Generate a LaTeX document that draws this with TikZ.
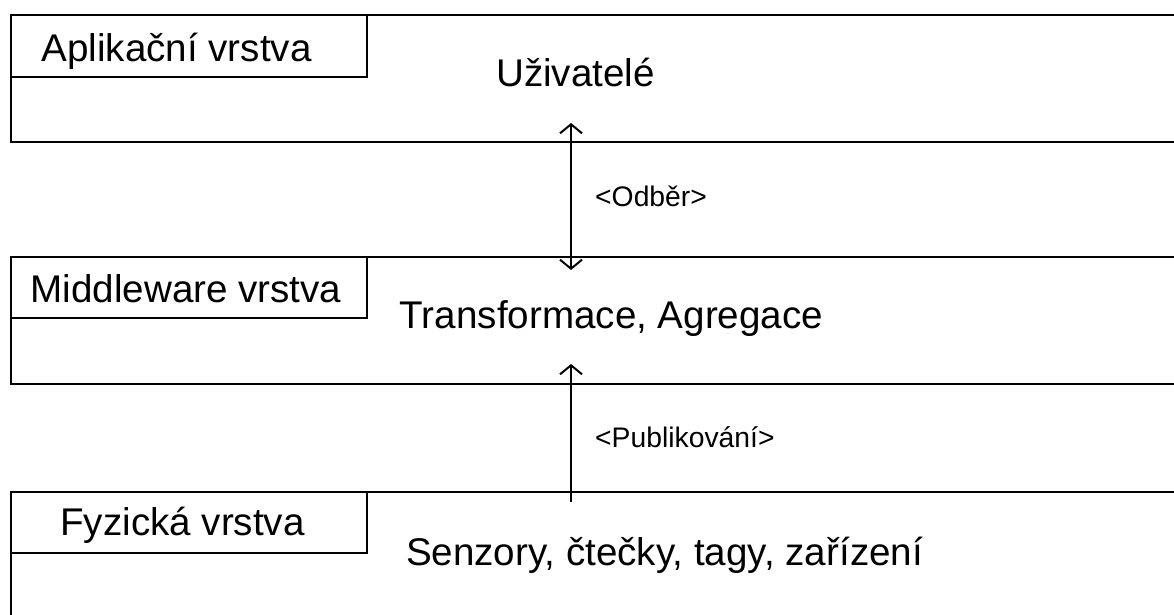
\documentclass[tikz,border=0pt]{standalone}
\usepackage{fontspec}
\setmainfont{Liberation Sans}
\usetikzlibrary{arrows.meta}
\begin{document}
\begin{tikzpicture}[x=1pt,y=-1pt,
  layer/.style={draw,line width=2pt,rectangle,anchor=north west,minimum width=1200pt,inner sep=0pt},
  tag/.style={draw,line width=2pt,rectangle,anchor=north west,minimum width=356pt,inner sep=0pt},
  big/.style={font=\fontsize{38.6}{46}\selectfont,anchor=base,inner sep=0pt},
  small/.style={font=\fontsize{28.3}{33}\selectfont,anchor=base west,inner sep=0pt},
  conn/.style={line width=2pt,{Straight Barb[length=9pt,width=22pt]}-{Straight Barb[length=9pt,width=22pt]}},
  conn1/.style={line width=2pt,-{Straight Barb[length=9pt,width=22pt]}}]
\useasboundingbox (0,0) rectangle (1174,615);
\node[layer,minimum height=127pt] (app) at (10,14) {};
\node[layer,minimum height=127pt] (mid) at (10,256) {};
\node[layer,minimum height=124.8pt] (phy) at (10,491) {};
\node[tag,minimum height=62pt] (appt) at (10,14) {};
\node[tag,minimum height=61pt] (midt) at (10,256) {};
\node[tag,minimum height=61pt] (phyt) at (10,491) {};
\node[big] (appl) at (176.5,62) {Aplikační vrstva};
\node[big] (midl) at (186,302) {Middleware vrstva};
\node[big] (phyl) at (182.5,535) {Fyzická vrstva};
\node[big] (uziv) at (575.5,87) {Uživatelé};
\node[big] (trans) at (611.5,328) {Transformace, Agregace};
\node[big] (senz) at (664.5,565) {Senzory, čtečky, tagy, zařízení};
\coordinate (a1) at (571,123);
\coordinate (a2) at (571,270);
\coordinate (b1) at (571,502);
\coordinate (b2) at (571,364);
\draw[conn] (a1) -- (a2);
\draw[conn1] (b1) -- (b2);
\node[small] (odb) at (595,206) {<Odběr>};
\node[small] (pub) at (595,447) {<Publikování>};
\end{tikzpicture}
\end{document}
